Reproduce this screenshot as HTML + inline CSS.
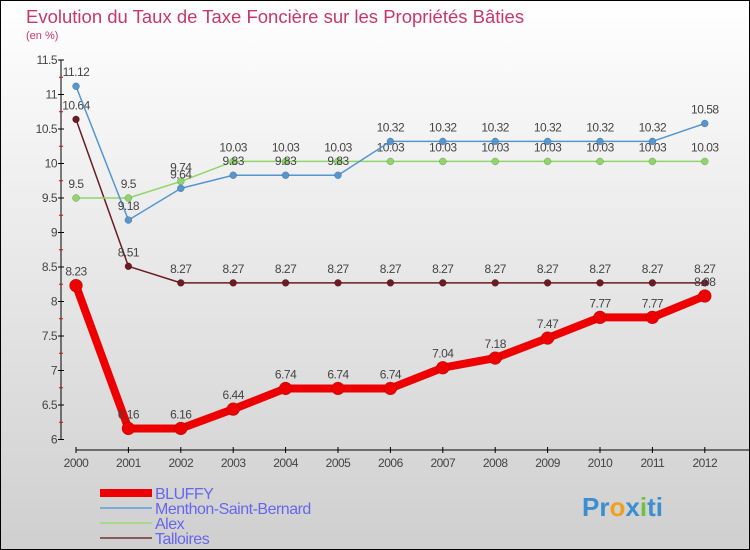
<!DOCTYPE html>
<html><head><meta charset="utf-8"><style>
body{margin:0}
svg{display:block;font-family:"Liberation Sans",sans-serif}
</style></head><body>
<svg width="750" height="550" xmlns="http://www.w3.org/2000/svg">
<defs><linearGradient id="bg" x1="0" y1="0" x2="0" y2="1"><stop offset="0" stop-color="#ffffff"/><stop offset="1" stop-color="#cfcfcf"/></linearGradient></defs>
<rect x="0.5" y="0.5" width="749" height="549" fill="url(#bg)" stroke="#000"/>
<text x="26" y="23" font-size="18.5" fill="#c8376a">Evolution du Taux de Taxe Foncière sur les Propriétés Bâties</text>
<text x="26" y="39" font-size="11" fill="#c8376a">(en %)</text>
<g id="axes"></g>
<g id="series"></g>
<g id="legend"></g>
</svg>
<script>
const years=["2000","2001","2002","2003","2004","2005","2006","2007","2008","2009","2010","2011","2012"];
const bluffy=[8.23,6.16,6.16,6.44,6.74,6.74,6.74,7.04,7.18,7.47,7.77,7.77,8.08];
const menthon=[11.12,9.18,9.64,9.83,9.83,9.83,10.32,10.32,10.32,10.32,10.32,10.32,10.58];
const alex=[9.5,9.5,9.74,10.03,10.03,10.03,10.03,10.03,10.03,10.03,10.03,10.03,10.03];
const talloires=[10.64,8.51,8.27,8.27,8.27,8.27,8.27,8.27,8.27,8.27,8.27,8.27,8.27];
const yTicks=[6,6.5,7,7.5,8,8.5,9,9.5,10,10.5,11,11.5];
const NS="http://www.w3.org/2000/svg";
const X=i=>76+i*52.4;
const Y=v=>60+(11.5-v)*69;
function mk(t,a,p){const e=document.createElementNS(NS,t);for(const k in a)e.setAttribute(k,a[k]);p.appendChild(e);return e;}
const axes=document.getElementById('axes');
let l=mk('line',{x1:61,y1:60,x2:61,y2:440,stroke:'#000'},axes);


yTicks.forEach(v=>{
  mk('line',{x1:58,y1:Y(v),x2:64,y2:Y(v),stroke:'#000'},axes);
  if(v<11.5){mk('line',{x1:59,y1:Y(v+0.25),x2:63,y2:Y(v+0.25),stroke:'#e00'},axes);}
  const t=mk('text',{x:57,y:Y(v)+4,'font-size':12,'text-anchor':'end',fill:'#444','letter-spacing':'-0.5'},axes);
  t.textContent=String(v);
  
  
});
l=mk('line',{x1:76,y1:450,x2:750,y2:450,stroke:'#000'},axes);


years.forEach((y,i)=>{
  mk('line',{x1:X(i),y1:447,x2:X(i),y2:453,stroke:'#000'},axes);
  const t=mk('text',{x:X(i),y:467,'font-size':12,'text-anchor':'middle',fill:'#444','letter-spacing':'-0.5'},axes);
  t.textContent=y;
  
  
});
const series=[
 {name:'talloires',d:talloires,c:'#6b1c22',w:1.5,r:3.5},
 {name:'alex',d:alex,c:'#8fd66a',w:1.5,r:3.5},
 {name:'menthon',d:menthon,c:'#5596cf',w:1.5,r:3.5},
 {name:'bluffy',d:bluffy,c:'#ee0000',w:8,r:6.5}
];
const sg=document.getElementById('series');
series.forEach(s=>{
  const g=mk('g',{},sg);
  
  
  const p=mk('polyline',{points:s.d.map((v,i)=>X(i)+','+Y(v)).join(' '),fill:'none',stroke:s.c,'stroke-width':s.w,'stroke-linejoin':'round'},g);
  
  
  s.d.forEach((v,i)=>{
    const c=mk('circle',{cx:X(i),cy:Y(v),r:s.r,fill:s.c,stroke:'rgba(0,0,0,0.3)','stroke-width':0.5},g);
    
    
    const t=mk('text',{x:X(i),y:Y(v)-10,'font-size':12,'text-anchor':'middle',fill:'#444','letter-spacing':'-0.5'},g);
    t.textContent=String(v);
    
    
  });
});
const lg=document.getElementById('legend');
[['BLUFFY','#ee0000',8],['Menthon-Saint-Bernard','#7aaed8',2],['Alex','#a6d98a',2],['Talloires','#8a5a5a',2]].forEach((e,i)=>{
  const y=493+i*15;
  const g=mk('g',{},lg);
  
  
  mk('line',{x1:100,y1:y,x2:152,y2:y,stroke:e[1],'stroke-width':e[2]},g);
  const t=mk('text',{x:155,y:y+6,'font-size':16,fill:'#6666ee','letter-spacing':'-0.5'},g);
  t.textContent=e[0];
});
const logo=mk('text',{x:582,y:516,'font-size':26,'font-weight':'bold',fill:'#3a8fd0'},lg);
logo.innerHTML='<tspan fill="#3a8fd0">Pr</tspan><tspan fill="#f0a020">o</tspan><tspan fill="#3a8fd0">x</tspan><tspan fill="#70c040">i</tspan><tspan fill="#3a8fd0">ti</tspan>';


</script>
</body></html>
